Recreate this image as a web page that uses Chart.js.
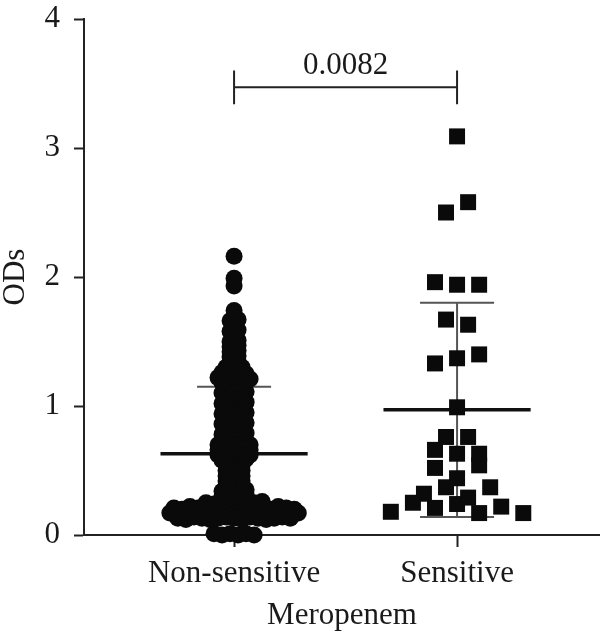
<!DOCTYPE html>
<html>
<head>
<meta charset="utf-8">
<script src="https://cdn.jsdelivr.net/npm/chart.js@4.4.0/dist/chart.umd.min.js"></script>
<style>
  html, body { margin: 0; padding: 0; background: #fff; }
  canvas { display: block; }
</style>
</head>
<body>
<canvas id="chart" width="600" height="636"></canvas>
<script>
const categories = ['Non-sensitive', 'Sensitive'];

const nonSensitive = [
  2.16,
  1.99,
  1.93,
  1.74,
  1.70,
  1.66, 1.67,
  1.62,
  1.58, 1.59,
  1.54,
  1.50, 1.51,
  1.46, 1.47,
  1.42, 1.43,
  1.38, 1.39,
  1.34, 1.35,
  1.30, 1.31, 1.30,
  1.26, 1.27, 1.26, 1.25,
  1.22, 1.21, 1.23, 1.22, 1.21,
  1.18, 1.17, 1.18, 1.19,
  1.14, 1.13, 1.14,
  1.10, 1.09, 1.10, 1.11,
  1.06, 1.05, 1.06,
  1.02, 1.01, 1.02, 1.03,
  0.98, 0.97, 0.98,
  0.94, 0.93, 0.94, 0.95,
  0.90, 0.89, 0.90,
  0.86, 0.85, 0.86, 0.87,
  0.82, 0.81, 0.82,
  0.78, 0.77, 0.78, 0.79,
  0.74, 0.73, 0.74,
  0.70, 0.69, 0.70, 0.71, 0.70,
  0.66, 0.65, 0.66, 0.67, 0.66,
  0.62, 0.61, 0.62, 0.63, 0.62,
  0.58, 0.57, 0.58, 0.59,
  0.54, 0.53, 0.54,
  0.50, 0.49, 0.50,
  0.46, 0.45, 0.46,
  0.42, 0.41, 0.42,
  0.38, 0.37, 0.38,
  0.34, 0.33, 0.34, 0.35,
  0.30, 0.29, 0.30, 0.31,
  0.25, 0.24, 0.26, 0.25, 0.26, 0.24, 0.25, 0.26,
  0.21, 0.20, 0.22, 0.21, 0.20, 0.21, 0.22, 0.21, 0.20, 0.22, 0.21, 0.21, 0.20, 0.22, 0.21, 0.20,
  0.17, 0.16, 0.18, 0.17, 0.16, 0.17, 0.18, 0.17, 0.16, 0.18, 0.17, 0.16, 0.17, 0.18, 0.17, 0.16, 0.17,
  0.13, 0.12, 0.14, 0.13, 0.12, 0.13, 0.14, 0.13, 0.12, 0.14, 0.13, 0.12, 0.13, 0.14, 0.13,
  0.01, 0.00, 0.01, 0.00, 0.01, 0.00
];

// left to right inside each row, bottom row first
const sensitive = [
  0.18, 0.25, 0.21, 0.24, 0.17, 0.22, 0.17,
  0.32, 0.37, 0.29, 0.37,
  0.52, 0.44, 0.54,
  0.66, 0.63, 0.63,
  0.76, 0.76,
  0.99,
  1.33, 1.37, 1.40,
  1.67, 1.63,
  1.96, 1.94, 1.94,
  2.50, 2.58,
  3.09
];

// mean and mean +/- SD as drawn
const groupMean = [0.63, 0.97];
const sdHigh = [1.15, 1.80];
const sdLow = [0.11, 0.14];

const yTicks = [0, 1, 2, 3, 4];
const pValue = '0.0082';
const bracketY = 3.47;

const FONT = { family: "'Liberation Serif', 'DejaVu Serif', serif", size: 31 };
const INK = '#1a1a1a';

// put the points of one group side by side, row by row, like a prism dot plot
function swarm(values, center, rowHeight, step) {
  const order = values.map((v, i) => i).sort((a, b) => values[a] - values[b] || a - b);
  const rows = [];
  let row = null, start = 0;
  order.forEach(i => {
    if (row === null || values[i] - start > rowHeight) {
      row = [];
      rows.push(row);
      start = values[i];
    }
    row.push(i);
  });
  const pts = [];
  rows.forEach(r => {
    r.sort((a, b) => a - b);
    r.forEach((i, k) => pts.push({ x: center + (k - (r.length - 1) / 2) * step, y: values[i] }));
  });
  return pts;
}

function segment(x1, y1, x2, y2, width, color) {
  return {
    type: 'line',
    data: [{ x: x1, y: y1 }, { x: x2, y: y2 }],
    showLine: true,
    borderColor: color,
    borderWidth: width,
    pointRadius: 0,
    order: 2,
    clip: false
  };
}

const lineSets = [];
categories.forEach((c, i) => {
  const cx = i + 1;
  lineSets.push(segment(cx, sdLow[i], cx, sdHigh[i], 2, '#555'));
  lineSets.push(segment(cx - 0.166, sdHigh[i], cx + 0.166, sdHigh[i], 2, '#555'));
  lineSets.push(segment(cx - 0.166, sdLow[i], cx + 0.166, sdLow[i], 2, '#555'));
  lineSets.push(segment(cx - 0.33, groupMean[i], cx + 0.33, groupMean[i], 3.5, '#111'));
});

const bracketPlugin = {
  id: 'bracket',
  afterDatasetsDraw(chart) {
    const x = chart.scales.x, y = chart.scales.y, ctx = chart.ctx;
    const x1 = x.getPixelForValue(1), x2 = x.getPixelForValue(2);
    const yb = y.getPixelForValue(bracketY);
    const yt = y.getPixelForValue(bracketY + 0.13), yl = y.getPixelForValue(bracketY - 0.13);
    ctx.save();
    ctx.strokeStyle = '#222';
    ctx.lineWidth = 2;
    ctx.beginPath();
    ctx.moveTo(x1, yb); ctx.lineTo(x2, yb);
    ctx.moveTo(x1, yt); ctx.lineTo(x1, yl);
    ctx.moveTo(x2, yt); ctx.lineTo(x2, yl);
    ctx.stroke();
    ctx.fillStyle = INK;
    ctx.font = FONT.size + 'px ' + FONT.family;
    ctx.textAlign = 'center';
    ctx.textBaseline = 'alphabetic';
    ctx.fillText(pValue, (x1 + x2) / 2, y.getPixelForValue(bracketY + 0.1));
    ctx.restore();
  }
};

new Chart(document.getElementById('chart'), {
  type: 'scatter',
  data: {
    datasets: [
      {
        data: swarm(nonSensitive, 1, 0.028, 0.036),
        pointStyle: 'circle',
        pointRadius: 8.5,
        backgroundColor: '#0a0a0a',
        borderWidth: 0,
        order: 1,
        clip: false
      },
      {
        data: swarm(sensitive, 2, 0.11, 0.099),
        pointStyle: 'rect',
        pointRadius: 11.3,
        backgroundColor: '#0a0a0a',
        borderWidth: 0,
        order: 1,
        clip: false
      },
      ...lineSets
    ]
  },
  options: {
    responsive: false,
    animation: false,
    layout: { autoPadding: false, padding: { top: 19, right: 0, bottom: 0, left: 0 } },
    plugins: {
      legend: { display: false },
      tooltip: { enabled: false }
    },
    scales: {
      x: {
        type: 'linear',
        min: 0.327,
        max: 2.641,
        afterBuildTicks: s => { s.ticks = [{ value: 1 }, { value: 2 }]; },
        afterFit: s => {
          s.height = 101;
          s.paddingLeft = 0;
          s.paddingRight = 0;
        },
        ticks: {
          callback: v => categories[Math.round(v) - 1],
          font: FONT,
          color: INK,
          padding: 8,
          maxRotation: 0,
          autoSkip: false
        },
        grid: { drawOnChartArea: false, tickLength: 12, tickColor: '#222', tickWidth: 2 },
        border: { color: '#222', width: 2 },
        title: { display: true, text: 'Meropenem', font: FONT, color: INK, padding: { top: 0, bottom: 2 } }
      },
      y: {
        min: 0,
        max: 4,
        afterBuildTicks: s => { s.ticks = yTicks.map(v => ({ value: v })); },
        afterFit: s => {
          s.width = 84;
          s.paddingTop = 0;
          s.paddingBottom = 0;
        },
        ticks: { font: FONT, color: INK, padding: 14 },
        grid: { drawOnChartArea: false, tickLength: 10, tickColor: '#222', tickWidth: 2 },
        border: { color: '#222', width: 2 },
        title: { display: true, text: 'ODs', font: { ...FONT, lineHeight: 1 }, color: INK, padding: 0 }
      }
    }
  },
  plugins: [bracketPlugin]
});
</script>
</body>
</html>
